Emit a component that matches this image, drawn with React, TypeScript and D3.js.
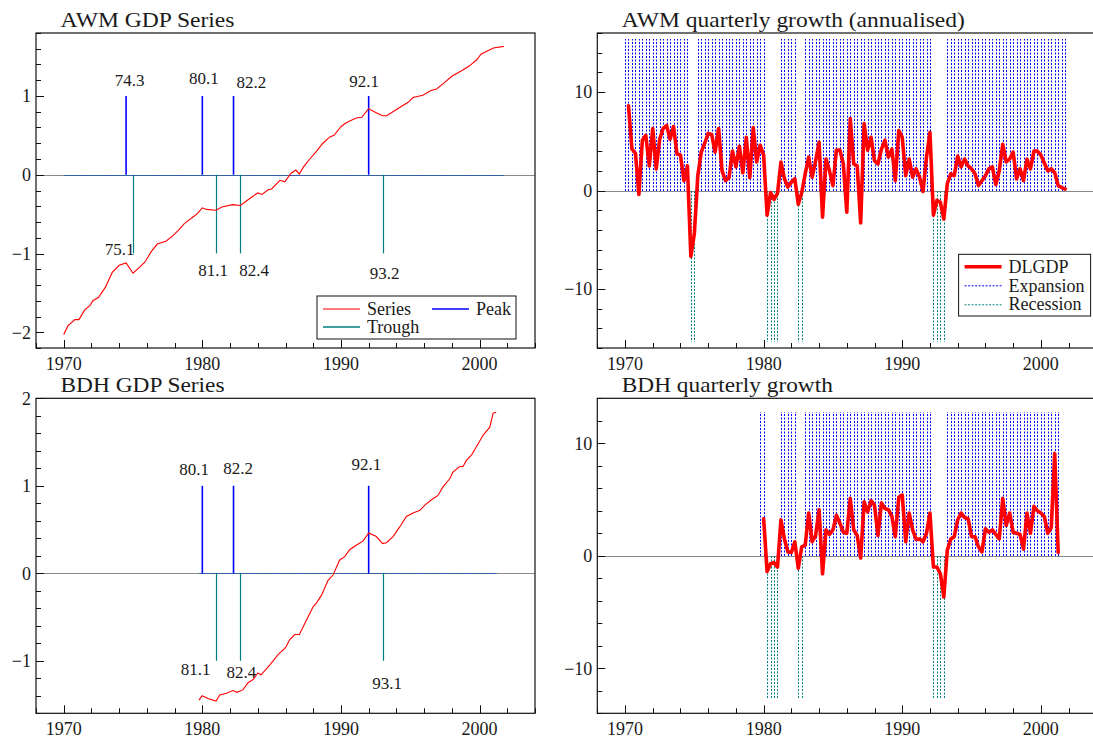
import React from "react";
import * as d3 from "d3";

const FONT = "'Liberation Serif', 'DejaVu Serif', serif";
const RED = "#ff0000";
const BLUE = "#0000ff";
const TEAL = "#008080";
const INK = "#1a1a1a";

// ---- AWM data (1970Q1 - 2001Q4) ----
const awmLevelDates = [
  1970.0, 1970.3, 1970.8, 1971.1, 1971.5, 1971.9, 1972.1, 1972.5, 1973.0, 1973.5,
  1974.0, 1974.5, 1975.0, 1975.5, 1975.85, 1976.3, 1976.75, 1977.4, 1977.9, 1978.25,
  1978.7, 1979.3, 1979.6, 1980.0, 1980.3, 1981.0, 1981.4, 1982.2, 1982.75, 1983.2,
  1983.6, 1984.0, 1984.3, 1984.75, 1985.0, 1985.6, 1985.95, 1986.4, 1986.75, 1987.0,
  1987.3, 1987.75, 1988.2, 1988.7, 1989.2, 1989.5, 1990.0, 1990.3, 1990.6, 1991.1,
  1991.5, 1992.0, 1992.4, 1993.0, 1993.3, 1993.75, 1994.2, 1994.85, 1995.2, 1995.9,
  1996.5, 1996.9, 1997.4, 1998.0, 1998.7, 1999.25, 1999.8, 2000.1, 2001.0, 2001.75,
];
const awmLevel = [
  -2.03, -1.92, -1.84, -1.84, -1.72, -1.66, -1.6, -1.56, -1.43, -1.24,
  -1.15, -1.12, -1.25, -1.17, -1.11, -0.98, -0.88, -0.84, -0.77, -0.71,
  -0.62, -0.54, -0.5, -0.42, -0.44, -0.45, -0.41, -0.38, -0.39, -0.33,
  -0.28, -0.23, -0.25, -0.19, -0.18, -0.07, -0.09, 0.02, 0.06, 0.01,
  0.1, 0.2, 0.29, 0.4, 0.48, 0.5, 0.61, 0.65, 0.68, 0.72,
  0.73, 0.84, 0.8, 0.75, 0.75, 0.8, 0.85, 0.92, 0.98, 1.01,
  1.07, 1.09, 1.16, 1.25, 1.32, 1.38, 1.46, 1.53, 1.61, 1.63,
];
const awmGrowthStart = 1970.25;
const awmGrowth = [
  8.6, 4.2, 3.8, -0.4,
  5.1, 5.6, 2.5, 6.3,
  2.2, 5.2, 6.3, 6.6,
  5.2, 6.5, 3.7, 3.6,
  1.0, 2.5, -6.7, -4.4,
  1.5, 3.9, 4.8, 5.8,
  5.7, 3.9, 6.3, 2.0,
  1.0, 1.3, 4.0, 2.4,
  4.5, 1.8, 5.4, 1.3,
  6.4, 2.9, 4.6, 3.6,
  -2.5, -0.2, -0.9, -0.3,
  2.9, 1.2, 0.35, 0.85,
  1.2, -1.4, -0.2, 1.7,
  3.4, 1.35, 3.0, 4.9,
  -2.7, 3.2, 2.0, 0.5,
  4.1, 4.1, 2.7, -2.2,
  7.3, 2.7, 2.5, -3.3,
  6.8, 4.1, 5.4, 3.0,
  2.7, 4.2, 5.1, 3.4,
  4.2, 1.0, 6.1, 5.4,
  1.5, 3.2, 1.35, 2.2,
  1.35, -0.1, 3.4, 5.9,
  -2.5, -1.0, -1.2, -2.9,
  0.7, 1.7, 1.5, 3.5,
  2.4, 3.2, 2.5, 2.2,
  1.7, 0.5, 1.0, 1.5,
  2.2, 2.4, 0.6, 2.0,
  4.7, 2.9, 3.2, 3.9,
  1.2, 2.2, 1.0, 3.2,
  2.2, 4.0, 4.0, 3.6,
  2.8, 2.0, 2.2, 1.8,
  0.5, 0.3, 0.15,
];
const awmSample = [1970.0, 2001.75];
const awmPeaks = [1974.5, 1980.0, 1982.25, 1992.0];
const awmPeakLabels = ["74.3", "80.1", "82.2", "92.1"];
const awmPeakLabelAt = [[1974.76, 1.13], [1980.12, 1.155], [1983.54, 1.1], [1991.67, 1.11]];
const awmTroughs = [1975.0, 1981.0, 1982.75, 1993.0];
const awmTroughLabels = ["75.1", "81.1", "82.4", "93.2"];
const awmTroughLabelAt = [[1974.04, -1.02], [1980.78, -1.29], [1983.73, -1.29], [1993.16, -1.32]];

// ---- BDH data (1979Q4 - 2001Q2) ----
const bdhLevelDates = [
  1979.76, 1979.98, 1980.41, 1980.99, 1981.26, 1981.74, 1982.22, 1982.51, 1982.94, 1983.3,
  1983.7, 1984.0, 1984.24, 1984.86, 1985.46, 1986.0, 1986.3, 1986.67, 1987.0, 1987.4,
  1988.0, 1988.23, 1988.6, 1989.07, 1989.43, 1989.9, 1990.27, 1990.63, 1991.1, 1991.6,
  1992.0, 1992.56, 1993.0, 1993.28, 1993.76, 1994.24, 1994.72, 1995.2, 1995.7, 1996.05,
  1996.53, 1997.0, 1997.37, 1997.85, 1998.09, 1998.57, 1998.81, 1999.05, 1999.41, 1999.9,
  2000.26, 2000.74, 2000.98, 2001.2,
];
const bdhLevel = [
  -1.45, -1.4, -1.43, -1.46, -1.39, -1.37, -1.34, -1.36, -1.33, -1.25,
  -1.21, -1.14, -1.16, -1.05, -0.93, -0.85, -0.76, -0.7, -0.7, -0.57,
  -0.38, -0.34, -0.25, -0.08, -0.02, 0.15, 0.19, 0.27, 0.32, 0.37,
  0.46, 0.42, 0.34, 0.35, 0.42, 0.53, 0.65, 0.69, 0.72, 0.78,
  0.84, 0.89, 0.99, 1.08, 1.16, 1.22, 1.22, 1.29, 1.35, 1.48,
  1.58, 1.67, 1.83, 1.84,
];
const bdhGrowthStart = 1980.0;
const bdhGrowth = [
  3.3, -1.4, -0.7, -0.6, -1.0,
  3.2, 1.5, 0.35, 0.3,
  1.25, -1.1, 0.8, 0.95,
  3.8, 1.25, 1.8, 4.1,
  -1.6, 2.3, 1.9, 2.3,
  3.6, 2.9, 2.1, 2.0,
  5.1, 2.3, 1.8, -0.2,
  4.8, 3.9, 4.9, 4.5,
  1.8, 4.7, 4.2, 4.1,
  3.5, 1.7, 5.2, 5.4,
  1.25, 3.8, 2.3, 1.45,
  1.5, 1.25, 2.0, 3.8,
  -1.0, -1.0, -1.6, -3.65,
  0.5, 1.5, 1.7, 3.2,
  3.8, 3.4, 3.3, 1.7,
  1.7, 0.8, 0.35, 2.4,
  2.1, 2.3, 1.9, 1.5,
  5.1, 2.7, 3.8, 2.1,
  2.0, 1.9, 0.6, 3.8,
  2.0, 4.4, 4.0, 3.8,
  3.5, 2.0, 2.5, 9.1,
  0.3,
];
const bdhSample = [1979.75, 2001.25];
const bdhPeaks = [1980.0, 1982.25, 1992.0];
const bdhPeakLabels = ["80.1", "82.2", "92.1"];
const bdhPeakLabelAt = [[1979.4, 1.12], [1982.58, 1.14], [1991.84, 1.18]];
const bdhTroughs = [1981.0, 1982.75, 1993.0];
const bdhTroughLabels = ["81.1", "82.4", "93.1"];
const bdhTroughLabelAt = [[1979.52, -1.16], [1982.82, -1.2], [1993.33, -1.32]];

// expansion / recession indicator heights
const awmIndicator = 15.35;
const bdhIndicator = 12.75;

const xDomain = [1968, 2004];
const xMajor = [1970, 1980, 1990, 2000];

const quarters = (a: number, b: number) =>
  d3.range(Math.round((b - a) * 4) + 1).map((i) => a + i / 4);

const inRecession = (d: number, peaks: number[], troughs: number[]) =>
  peaks.some((p, i) => d > p + 1e-6 && d <= troughs[i] + 1e-6);

const fmt = (v: number) => (v < 0 ? "\u2212" + Math.abs(v) : String(v));
const snap = (v: number) => Math.round(v) + 0.5; // crisp 1px lines

const T = (props: any) => <text fontFamily={FONT} fill={INK} style={{ fontFamily: FONT }} {...props} />;

function Panel({ box, yDomain, yMinor, yMajor, title, titleLen, children }: any) {
  const [x0, x1, y0, y1] = box;
  const x = d3.scaleLinear().domain(xDomain).range([x0, x1]);
  const y = d3.scaleLinear().domain(yDomain).range([y1, y0]);
  const nY = Math.round((yDomain[1] - yDomain[0]) / yMinor);
  const yTicks = d3.range(nY + 1).map((i) => +(yDomain[0] + i * yMinor).toFixed(4));
  const isMajor = (v: number) => Math.abs(v / yMajor - Math.round(v / yMajor)) < 1e-6;
  const xTicks = d3.range(xDomain[0], xDomain[1] + 1, 2);
  return (
    <g>
      <T x={x0 + 24.5} y={y0 - 6} fontSize={22} textLength={titleLen} lengthAdjust="spacingAndGlyphs">
        {title}
      </T>
      <line x1={x0} x2={x1} y1={snap(y(0))} y2={snap(y(0))} stroke="#8a8a8a" strokeWidth={1} />
      {children(x, y)}
      <rect x={x0} y={y0} width={x1 - x0} height={y1 - y0} fill="none" stroke="#111" strokeWidth={1.2} />
      {yTicks.map((v) => (
        <g key={"y" + v}>
          <line x1={x0} x2={x0 + (isMajor(v) ? 8 : 5)} y1={snap(y(v))} y2={snap(y(v))} stroke="#111" strokeWidth={1} />
          {isMajor(v) && (
            <T x={x0 - 5} y={y(v)} dy="0.35em" textAnchor="end" fontSize={18}>
              {fmt(v)}
            </T>
          )}
        </g>
      ))}
      {xTicks.map((v) => {
        const major = xMajor.includes(v);
        return (
          <g key={"x" + v}>
            <line x1={snap(x(v))} x2={snap(x(v))} y1={y1} y2={y1 - (major ? 8 : 5)} stroke="#111" strokeWidth={1} />
            {major && (
              <T x={x(v)} y={y1 + 22} textAnchor="middle" fontSize={18}>
                {v}
              </T>
            )}
          </g>
        );
      })}
    </g>
  );
}

function LevelPlot({ x, y, dates, values, sample, peaks, peakLabels, peakAt, troughs, troughLabels, troughAt }: any) {
  const line = d3.line<number>().x((_, i) => x(dates[i])).y((d) => y(d));
  const zy = snap(y(0));
  return (
    <g>
      <line x1={x(sample[0])} x2={x(sample[1])} y1={zy} y2={zy} stroke={TEAL} strokeWidth={1} strokeDasharray="1.5 1.5" opacity={0.8} />
      <line x1={x(sample[0])} x2={x(sample[1])} y1={zy} y2={zy} stroke={BLUE} strokeWidth={1} strokeDasharray="1.5 1.5" strokeDashoffset={1.5} opacity={0.55} />
      {troughs.map((t: number, i: number) => (
        <g key={"t" + i}>
          <line x1={snap(x(t))} x2={snap(x(t))} y1={y(0)} y2={y(-1)} stroke={TEAL} strokeWidth={1.2} />
          <T x={x(troughAt[i][0])} y={y(troughAt[i][1])} textAnchor="middle" fontSize={17}>
            {troughLabels[i]}
          </T>
        </g>
      ))}
      {peaks.map((p: number, i: number) => (
        <g key={"p" + i}>
          <line x1={x(p)} x2={x(p)} y1={y(0)} y2={y(1)} stroke={BLUE} strokeWidth={1.6} />
          <T x={x(peakAt[i][0])} y={y(peakAt[i][1])} textAnchor="middle" fontSize={17}>
            {peakLabels[i]}
          </T>
        </g>
      ))}
      <path d={line(values) || ""} fill="none" stroke={RED} strokeWidth={1.1} />
    </g>
  );
}

function GrowthPlot({ x, y, start, values, sample, peaks, troughs, h }: any) {
  const line = d3.line<number>().x((_, i) => x(start + i / 4)).y((d) => y(d));
  const qs = quarters(sample[0], sample[1]);
  const zy = Math.round(y(0));
  return (
    <g>
      {qs.map((d) => {
        const rec = inRecession(d, peaks, troughs);
        return (
          <line key={d} x1={snap(x(d))} x2={snap(x(d))} y1={zy} y2={Math.round(y(rec ? -h : h))}
            stroke={rec ? TEAL : BLUE} strokeWidth={1} strokeDasharray="2 1.5" />
        );
      })}
      <path d={line(values) || ""} fill="none" stroke={RED} strokeWidth={3.6} strokeLinejoin="round" strokeLinecap="round" />
    </g>
  );
}

const LEFT = [36, 535];
const RIGHT = [597.3, 1096.3];
const TOP = [33, 348];
const BOTTOM = [398.3, 713.3];

export default function App() {
  return (
    <svg width={1093} height={743} style={{ position: "absolute", left: 0, top: 0, background: "#fff", overflow: "hidden" }}>
      <rect width={1093} height={743} fill="#fff" />
      <Panel box={[...LEFT, ...TOP]} yDomain={[-2.2, 1.8]} yMinor={0.2} yMajor={1} title="AWM GDP Series" titleLen={174}>
        {(x: any, y: any) => (
          <g>
            <LevelPlot x={x} y={y} dates={awmLevelDates} values={awmLevel} sample={awmSample}
              peaks={awmPeaks} peakLabels={awmPeakLabels} peakAt={awmPeakLabelAt}
              troughs={awmTroughs} troughLabels={awmTroughLabels} troughAt={awmTroughLabelAt} />
            <g transform={`translate(${LEFT[0] + 281},${TOP[0] + 263})`}>
              <rect width={199} height={43} fill="#fff" stroke="#111" strokeWidth={1} />
              <line x1={6} x2={43} y1={13} y2={13} stroke={RED} strokeWidth={1.1} />
              <T x={50} y={19} fontSize={18}>Series</T>
              <line x1={115} x2={152} y1={13} y2={13} stroke={BLUE} strokeWidth={1.3} />
              <T x={159} y={19} fontSize={18}>Peak</T>
              <line x1={6} x2={43} y1={31} y2={31} stroke={TEAL} strokeWidth={1.3} />
              <T x={50} y={37} fontSize={18}>Trough</T>
            </g>
          </g>
        )}
      </Panel>
      <Panel box={[...RIGHT, ...TOP]} yDomain={[-16, 16]} yMinor={2} yMajor={10} title="AWM quarterly growth (annualised)" titleLen={343}>
        {(x: any, y: any) => (
          <g>
            <GrowthPlot x={x} y={y} start={awmGrowthStart} values={awmGrowth} sample={awmSample}
              peaks={awmPeaks} troughs={awmTroughs} h={awmIndicator} />
            <g transform={`translate(${RIGHT[0] + 361.3},${TOP[0] + 221.3})`}>
              <rect width={132} height={61.7} fill="#fff" stroke="#111" strokeWidth={1} />
              <line x1={6} x2={43} y1={12.4} y2={12.4} stroke={RED} strokeWidth={3.6} />
              <T x={50} y={18.5} fontSize={18}>DLGDP</T>
              <line x1={6} x2={43} y1={31.5} y2={31.5} stroke={BLUE} strokeWidth={1} strokeDasharray="2 1.5" />
              <T x={50} y={37.5} fontSize={18}>Expansion</T>
              <line x1={6} x2={43} y1={50.5} y2={50.5} stroke={TEAL} strokeWidth={1} strokeDasharray="2 1.5" />
              <T x={50} y={56} fontSize={18}>Recession</T>
            </g>
          </g>
        )}
      </Panel>
      <Panel box={[...LEFT, ...BOTTOM]} yDomain={[-1.6, 2.0]} yMinor={0.2} yMajor={1} title="BDH GDP Series" titleLen={164}>
        {(x: any, y: any) => (
          <LevelPlot x={x} y={y} dates={bdhLevelDates} values={bdhLevel} sample={bdhSample}
            peaks={bdhPeaks} peakLabels={bdhPeakLabels} peakAt={bdhPeakLabelAt}
            troughs={bdhTroughs} troughLabels={bdhTroughLabels} troughAt={bdhTroughLabelAt} />
        )}
      </Panel>
      <Panel box={[...RIGHT, ...BOTTOM]} yDomain={[-14, 14]} yMinor={2} yMajor={10} title="BDH quarterly growth" titleLen={211}>
        {(x: any, y: any) => (
          <GrowthPlot x={x} y={y} start={bdhGrowthStart} values={bdhGrowth} sample={bdhSample}
            peaks={bdhPeaks} troughs={bdhTroughs} h={bdhIndicator} />
        )}
      </Panel>
    </svg>
  );
}
